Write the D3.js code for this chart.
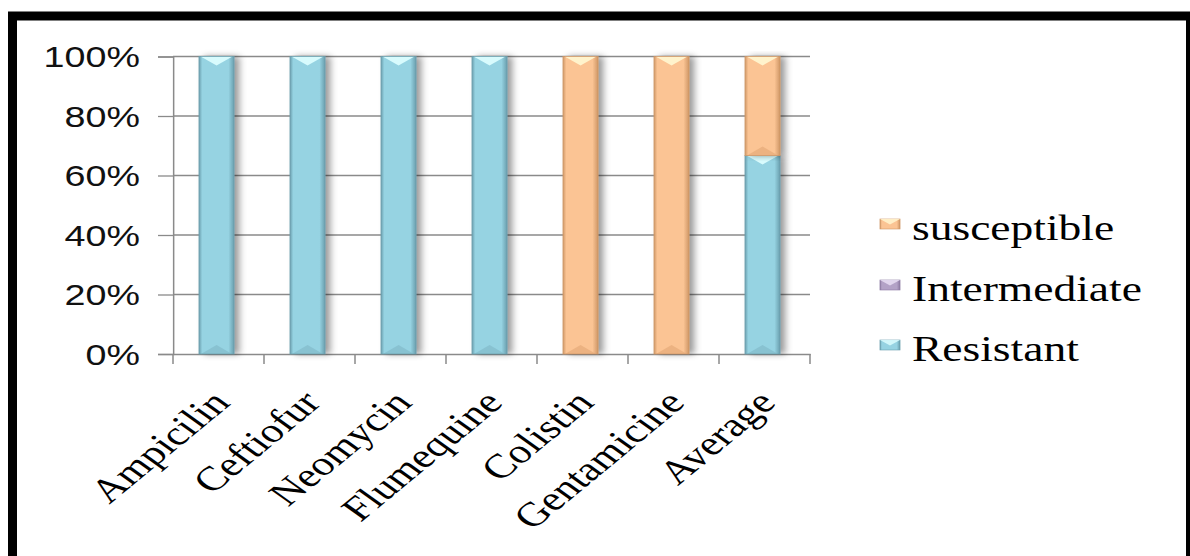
<!DOCTYPE html>
<html>
<head>
<meta charset="utf-8">
<script src="https://cdn.jsdelivr.net/npm/d3@7"></script>
<style>
  html, body { margin: 0; padding: 0; background: #fff; }
  svg { display: block; }
</style>
</head>
<body>
<svg id="chart" width="1190" height="556"></svg>
<script>
// Antimicrobial susceptibility profile (percent stacked)
const categories = ["Ampicilin", "Ceftiofur", "Neomycin", "Flumequine", "Colistin", "Gentamicine", "Average"];
const resistant    = [100, 100, 100, 100, 0, 0, 66.7];
const intermediate = [0, 0, 0, 0, 0, 0, 0];
const susceptible  = [0, 0, 0, 0, 100, 100, 33.3];
const seriesNames  = ["Resistant", "Intermediate", "susceptible"];
const legendOrder  = ["susceptible", "Intermediate", "Resistant"];
const yTicks = [0, 0.2, 0.4, 0.6, 0.8, 1];

const palette = {
  Resistant:    { main: "#96d3e2", edge: "#6a9fae", light: "#d8fbfd", dark: "#86c0cf" },
  Intermediate: { main: "#b3a2c7", edge: "#8d7ba3", light: "#e6dcf2", dark: "#a492b9" },
  susceptible:  { main: "#fbc494", edge: "#cf9766", light: "#fff3cc", dark: "#eab07e" }
};

const W = 1190, H = 556;
const sx = 1.3; // horizontal stretch of the whole drawing
const svg = d3.select("#chart");

// Page frame
svg.append("rect").attr("x", 0).attr("y", 0).attr("width", W).attr("height", H).attr("fill", "#fff");
svg.append("rect")
  .attr("x", 12.5).attr("y", 16).attr("width", 1178).attr("height", 620)
  .attr("fill", "none").attr("stroke", "#000").attr("stroke-width", 9);

const defs = svg.append("defs");
Object.entries(palette).forEach(([k, c]) => {
  const g = defs.append("linearGradient").attr("id", "grad-" + k)
    .attr("x1", "0%").attr("x2", "100%").attr("y1", "0%").attr("y2", "0%");
  g.append("stop").attr("offset", "0%").attr("stop-color", c.edge);
  g.append("stop").attr("offset", "9%").attr("stop-color", c.main);
  g.append("stop").attr("offset", "84%").attr("stop-color", c.main);
  g.append("stop").attr("offset", "100%").attr("stop-color", c.edge);
});
const sh = defs.append("filter").attr("id", "shadow")
  .attr("x", "-30%").attr("y", "-5%").attr("width", "190%").attr("height", "110%");
sh.append("feDropShadow").attr("dx", 4).attr("dy", 0).attr("stdDeviation", 3)
  .attr("flood-color", "#000").attr("flood-opacity", 0.4);

const root = svg.append("g").attr("transform", `scale(${sx},1)`);

// Plot geometry (inner coordinates)
const plot = { left: 173 / sx, right: 810 / sx, top: 56.5, bottom: 354 };

const x = d3.scaleBand().domain(categories).range([plot.left, plot.right]).paddingInner(0).paddingOuter(0);
const y = d3.scaleLinear().domain([0, 1]).range([plot.bottom, plot.top]);
const barW = 35 / sx;

// Gridlines
root.append("g").selectAll("line").data(yTicks.filter(t => t > 0)).join("line")
  .attr("x1", plot.left).attr("x2", plot.right)
  .attr("y1", d => y(d)).attr("y2", d => y(d))
  .attr("stroke", "#8a8a8a").attr("stroke-width", 1.3);

// Y axis
const yAxis = root.append("g").attr("transform", `translate(${plot.left},0)`)
  .call(d3.axisLeft(y).tickValues(yTicks).tickFormat(d3.format(".0%")).tickSize(15 / sx).tickPadding(18 / sx));
yAxis.select(".domain").attr("stroke", "#8a8a8a").attr("vector-effect", "non-scaling-stroke").attr("stroke-width", 1.5);
yAxis.selectAll(".tick line").attr("stroke", "#8a8a8a").attr("stroke-width", 1.3);
yAxis.selectAll(".tick text")
  .attr("font-family", "'Liberation Sans', Arial, sans-serif")
  .attr("font-size", 29).attr("fill", "#111").attr("dy", "0.36em");

// X axis
const xAxis = root.append("g").attr("transform", `translate(0,${plot.bottom})`)
  .call(d3.axisBottom(x).tickSize(0).tickFormat(""));
xAxis.select(".domain").attr("stroke", "#8a8a8a").attr("stroke-width", 1.5);
const boundaries = categories.map(c => x(c)).concat([plot.right]);
root.append("g").selectAll("line").data(boundaries).join("line")
  .attr("x1", d => d).attr("x2", d => d)
  .attr("y1", plot.bottom).attr("y2", plot.bottom + 10)
  .attr("stroke", "#8a8a8a").attr("stroke-width", 1.5).attr("vector-effect", "non-scaling-stroke");

// Category labels
root.append("g").selectAll("text").data(categories).join("text")
  .attr("transform", d => `translate(${x(d) + x.bandwidth() / 2 + 10},${plot.bottom + 50}) rotate(-47)`)
  .attr("text-anchor", "end")
  .attr("font-family", "'Liberation Serif', 'Times New Roman', serif")
  .attr("font-size", 34).attr("fill", "#000")
  .text(d => d);

// Stacked bars
const rows = categories.map((c, i) => ({
  cat: c, Resistant: resistant[i], Intermediate: intermediate[i], susceptible: susceptible[i]
}));
const stack = d3.stack().keys(seriesNames).offset(d3.stackOffsetExpand);
const layers = stack(rows);

const barsG = root.append("g");
layers.forEach(layer => {
  const key = layer.key, c = palette[key];
  layer.forEach(seg => {
    const v0 = seg[0], v1 = seg[1];
    if (!(v1 - v0 > 0)) return;
    const cat = seg.data.cat;
    const x0 = x(cat) + (x.bandwidth() - barW) / 2 - 1.5;
    const x1 = x0 + barW, xc = (x0 + x1) / 2;
    const yTop = y(v1), yBot = y(v0);
    const g = barsG.append("g");
    g.append("rect").attr("x", x0).attr("y", yTop).attr("width", barW).attr("height", yBot - yTop)
      .attr("fill", "url(#grad-" + key + ")").attr("filter", "url(#shadow)");
    // top bevel
    g.append("path")
      .attr("d", `M${x0 + 1.2},${yTop} L${x1 - 1.2},${yTop} L${xc},${yTop + 9} Z`)
      .attr("fill", c.light);
    // bottom bevel
    g.append("path")
      .attr("d", `M${x0 + 1.5},${yBot} L${x1 - 1.5},${yBot} L${xc},${yBot - 9} Z`)
      .attr("fill", c.dark).attr("opacity", 0.9);
    g.append("rect").attr("x", x0).attr("y", yTop).attr("width", barW).attr("height", yBot - yTop)
      .attr("fill", "none").attr("stroke", c.edge).attr("stroke-width", 0.9).attr("opacity", 0.8);
  });
});

// Legend
const legY = { susceptible: 224, Intermediate: 285, Resistant: 345 };
const legG = root.append("g");
legendOrder.forEach(k => {
  const c = palette[k];
  const mx = 880 / sx, mw = 20 / sx, mh = 10, my = legY[k] - mh / 2;
  legG.append("rect").attr("x", mx).attr("y", my).attr("width", mw).attr("height", mh)
    .attr("fill", "url(#grad-" + k + ")").attr("stroke", c.edge).attr("stroke-width", 0.6);
  legG.append("path")
    .attr("d", `M${mx},${my} L${mx + mw},${my} L${mx + mw / 2},${my + mh * 0.55} Z`)
    .attr("fill", c.light).attr("opacity", 0.9);
  legG.append("text").attr("x", 912 / sx).attr("y", legY[k] + 16)
    .attr("font-family", "'Liberation Serif', 'Times New Roman', serif")
    .attr("font-size", 35).attr("fill", "#000")
    .text(k);
});
</script>
</body>
</html>
